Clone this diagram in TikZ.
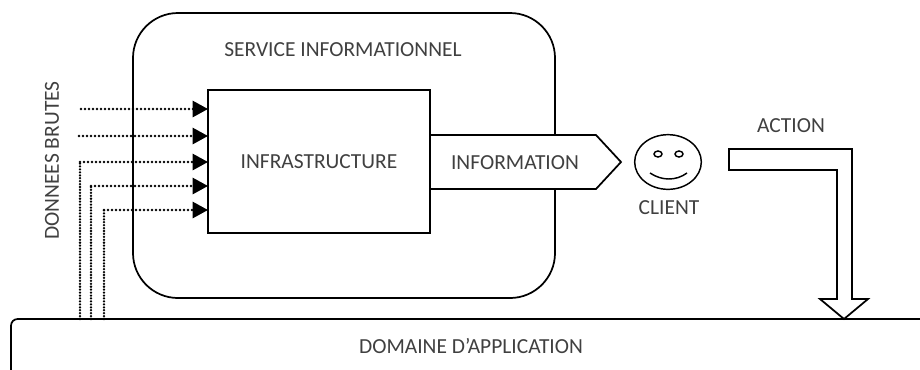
\documentclass[tikz,border=0pt]{standalone}
\usepackage{fontspec}
\setmainfont{Carlito}
\usetikzlibrary{arrows.meta,shapes.geometric}
\tikzset{
  lbl/.style={inner sep=0pt,text=black!75,font=\fontsize{16.1pt}{18pt}\selectfont},
  shp/.style={draw=black,line width=1.3pt,line join=miter},
  dots/.style={draw=black,line width=2pt,line cap=round,dash pattern=on 0pt off 3pt,-{Triangle[length=11.5pt,width=12pt]}},
  dotsv/.style={draw=black,line width=1.9pt,line cap=round,dash pattern=on 0pt off 2.2pt},
}
\begin{document}
\begin{tikzpicture}[x=0.75pt,y=-0.75pt]
\useasboundingbox (0,0) rectangle (920,369);
\begin{scope}
\clip (0,0) rectangle (920,369);
\draw[shp,rounded corners=33.75pt] (133,13) rectangle (555,298);
\draw[shp,rounded corners=5pt] (11,385) -- (11,319) -- (940,319);
\end{scope}
\path[shp,fill=white] (430,135) -- (596,135) -- (621,162) -- (596,189) -- (430,189);
\node[shp,minimum width=166.5pt,minimum height=107pt,inner sep=0pt,outer sep=0pt,anchor=north west,fill=white] (infra) at (208,90) {};
\node[lbl] (inf) at (319,162) {INFRASTRUCTURE};
\node[lbl] (info) at (515,163) {INFORMATION};
\node[lbl] (svc) at (343,50) {SERVICE INFORMATIONNEL};
\node[lbl,rotate=90] (raw) at (52,160.5) {DONNEES BRUTES};
\node[shp,ellipse,minimum width=50pt,minimum height=41pt,inner sep=0pt,line width=1.1pt] (face) at (668,162) {};
\draw[line width=1.1pt] (658,154) ellipse [x radius=4,y radius=3];
\draw[line width=1.1pt] (679,154) ellipse [x radius=4,y radius=3];
\draw[line width=1.1pt] (650,173) .. controls (662,181) and (676,181) .. (687,173);
\node[lbl] (client) at (669,207.5) {CLIENT};
\node[lbl] (action) at (791,126) {ACTION};
\path[shp] (729,149) -- (852,149) -- (852,299) -- (868,299) -- (844,319) -- (820,299) -- (837,299) -- (837,170) -- (729,170) -- cycle;
\node[lbl] (dom) at (471,346) {DOMAINE D’APPLICATION};
\coordinate (a1) at (81,109);
\coordinate (a2) at (79,136);
\coordinate (a3) at (80,319);
\coordinate (a4) at (91,319);
\coordinate (a5) at (104,319);
\coordinate (c3) at (80,162);
\coordinate (c4) at (91,186);
\coordinate (c5) at (104,210);
\draw[dots] (a1) -- (a1 -| infra.west);
\draw[dots] (a2) -- (a2 -| infra.west);
\draw[dots] (c3) -- (c3 -| infra.west);
\draw[dots] (c4) -- (c4 -| infra.west);
\draw[dots] (c5) -- (c5 -| infra.west);
\draw[dotsv] (a3) -- (c3);
\draw[dotsv] (a4) -- (c4);
\draw[dotsv] (a5) -- (c5);
\end{tikzpicture}
\end{document}
